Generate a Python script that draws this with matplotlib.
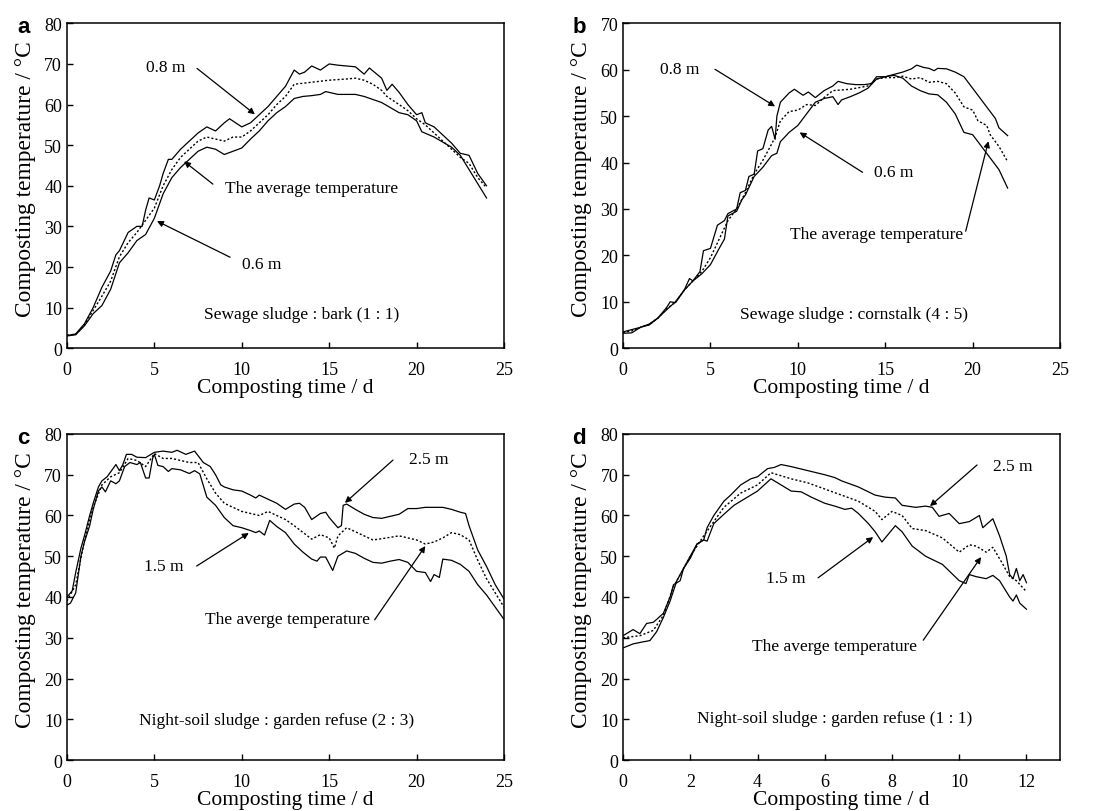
import numpy as np
import matplotlib.pyplot as plt

plt.rcParams['font.family'] = ['Liberation Serif', 'DejaVu Serif']

# ---- panel a: sewage sludge : bark (1 : 1) ----
a_t_hi = [0, 0.5, 1, 1.5, 2, 2.5, 2.8, 3, 3.5, 4, 4.3, 4.5, 4.7, 5, 5.3, 5.5, 5.8, 6, 6.5, 7,
          7.5, 8, 8.5, 9, 9.3, 10, 10.5, 11, 11.5, 12, 12.5, 13, 13.3, 13.6, 14, 14.5, 15, 15.5,
          16, 16.5, 17, 17.3, 18, 18.3, 18.6, 19, 19.5, 20, 20.3, 20.5, 21, 21.5, 22, 22.5, 23,
          23.5, 24]
a_hi = [3.1, 3.5, 6, 10, 15, 19, 23, 24, 28.5, 30, 30, 34, 37, 36.5, 40, 43, 46.5, 46.5, 49, 51,
        53, 54.5, 53.5, 55.5, 56.5, 54.5, 55.5, 57.5, 59.5, 62, 64.5, 68.5, 67.5, 68, 69.5, 68.5,
        70, 69.7, 69.5, 69.3, 67.5, 69, 66.5, 63.5, 65, 63, 60, 57.5, 58, 55.5, 54.5, 52.5, 50.5,
        48, 47.5, 43, 40]
a_t_lo = [0, 0.5, 1, 1.5, 2, 2.5, 3, 3.5, 4, 4.5, 5, 5.5, 6, 6.5, 7, 7.5, 8, 8.5, 9, 9.5, 10,
          10.5, 11, 11.5, 12, 12.5, 13, 13.5, 14, 14.5, 14.8, 15.5, 16.5, 17, 18, 19, 19.5, 20,
          20.3, 21, 22, 22.5, 23, 23.5, 24]
a_lo = [3, 3.3, 5.5, 8.5, 10.5, 14.5, 21, 23.5, 26.5, 28, 32, 38, 42, 44.5, 46.5, 48.5, 49.5, 49,
        47.7, 48.5, 49.3, 51.5, 53.5, 56, 58, 59.5, 61.5, 62, 62.2, 62.5, 63.2, 62.5, 62.5, 62,
        60.5, 58, 57.5, 56, 53.3, 52, 49.5, 47.5, 44, 40.5, 37]
a_t_avg = [0, 0.5, 1, 1.5, 2, 2.5, 3, 3.5, 4, 4.5, 5, 5.5, 6, 6.5, 7, 7.5, 8, 8.5, 9, 9.5, 10,
           10.5, 11, 11.5, 12, 12.5, 13, 14, 15, 16, 16.5, 17, 17.5, 18, 18.3, 19, 19.5, 20, 20.5,
           21, 21.5, 22, 22.5, 23, 23.5, 24]
a_avg = [3.2, 3.4, 5.8, 9.3, 12.8, 16.5, 22.5, 26, 28.5, 31.5, 34.5, 40, 44, 47, 49, 51, 52, 51.5,
         51, 52, 52, 53.5, 55.5, 57.5, 60, 62, 65, 65.5, 66, 66.3, 66.5, 66, 65, 63.5, 62, 60,
         58.5, 56.5, 55, 53, 51, 49, 47, 45.5, 42, 39.5]

# ---- panel b: sewage sludge : cornstalk (4 : 5) ----
b_t_hi = [0, 0.5, 1, 1.5, 2, 2.5, 2.7, 3, 3.5, 3.8, 4, 4.4, 4.6, 5, 5.4, 5.8, 6, 6.5, 6.7, 7,
          7.2, 7.5, 7.7, 8, 8.3, 8.5, 8.7, 8.8, 9, 9.5, 9.8, 10.3, 10.6, 11, 11.5, 12, 12.3,
          12.8, 13.3, 13.8, 14.2, 14.5, 15, 15.5, 16, 16.5, 16.8, 17.2, 17.5, 17.8, 18, 18.5,
          19, 19.5, 20, 20.5, 21, 21.3, 21.5, 22]
b_hi = [3.5, 4, 4.5, 5.2, 6.5, 8.8, 10, 9.8, 12.5, 15, 14.5, 16.5, 21, 21.5, 26.5, 27.5, 29, 30,
        33.5, 34, 37, 37.5, 42.5, 43, 47, 47.8, 45, 50, 53, 55, 55.8, 54.5, 55.2, 54, 55.5, 56.5,
        57.5, 57, 56.8, 56.8, 57, 58.5, 58.5, 59, 59.5, 60.2, 61, 60.5, 60.3, 59.8, 60.3, 60.2,
        59.5, 58.5, 56, 53.5, 51, 49.5, 47.5, 45.8]
b_t_lo = [0, 0.5, 1, 1.5, 2, 2.5, 3, 3.5, 4, 4.5, 5, 5.5, 5.8, 6, 6.5, 6.8, 7, 7.5, 8, 8.5, 8.8,
          9, 9.5, 10, 10.5, 11, 11.5, 12, 12.3, 12.5, 13, 13.5, 14, 14.5, 15, 15.5, 16, 16.5,
          17, 17.5, 18, 18.5, 19, 19.5, 20, 20.5, 21, 21.5, 22]
b_lo = [3.2, 3.3, 4.5, 5, 6.5, 8.3, 10, 12.5, 14.5, 16, 18, 21.5, 23.5, 28.5, 29.5, 32, 33, 37,
        39, 41.5, 42, 44.5, 46.5, 48, 50.5, 53, 53.8, 54.2, 52.5, 53.5, 54.2, 55, 56, 58, 58.5,
        58.8, 58.2, 56.5, 55.5, 54.8, 54.6, 53, 50.5, 46.5, 46, 43.5, 41, 38.5, 34.5]
b_t_avg = [0, 0.5, 1, 1.5, 2, 2.5, 3, 3.5, 4, 4.5, 5, 5.5, 6, 6.5, 7, 7.5, 8, 8.5, 8.7, 9, 9.5,
           10, 10.5, 11, 11.5, 12, 13, 14, 14.5, 15, 15.5, 16, 16.5, 17, 17.5, 18, 18.5, 19,
           19.5, 20, 20.3, 20.8, 21, 21.5, 22]
b_avg = [3.4, 3.7, 4.5, 5.1, 6.5, 8.5, 9.9, 12.5, 14.5, 16.5, 19.5, 23.5, 27.5, 30, 33.5, 37.5,
         40.5, 44, 45.5, 49, 51, 51.3, 52.5, 52.3, 54, 55.5, 55.8, 56.5, 58, 58.3, 58.3, 58.6, 58,
         58.3, 57.3, 57.5, 57, 55, 52, 51.3, 49, 48, 46, 43.5, 40.2]

# ---- panel c: night-soil sludge : garden refuse (2 : 3) ----
c_t_hi = [0, 0.3, 0.5, 0.8, 1, 1.3, 1.5, 1.8, 2, 2.3, 2.8, 3, 3.2, 3.4, 3.7, 4, 4.5, 5, 5.5, 6,
          6.3, 6.8, 7.3, 7.8, 8.2, 8.5, 8.8, 9, 9.5, 10, 10.5, 10.8, 11, 11.5, 12, 12.5, 13,
          13.3, 13.6, 14, 14.5, 14.8, 15, 15.5, 15.7, 15.8, 16, 16.5, 17, 17.5, 18, 18.5, 19,
          19.5, 20, 20.5, 21, 21.5, 22, 22.5, 22.8, 23, 23.5, 24, 24.5, 25]
c_hi = [40, 41.5, 46, 52, 55, 60, 63, 67, 68.5, 69.5, 72.5, 71, 72.5, 75, 75, 74.3, 74.2, 75.5,
        75.8, 75.5, 76, 75, 75.8, 73, 72, 70, 67.5, 67, 66.3, 66, 65, 64.3, 65, 64, 63, 61.5,
        62.8, 63, 62, 59, 60.5, 60.8, 59.5, 57, 57.5, 62.5, 62.8, 61.5, 60.3, 59.5, 59.3, 59.8,
        60.3, 61.7, 61.7, 62, 62, 62, 61.5, 60.8, 60.5, 57.5, 51.5, 47.5, 43, 39.5]
c_t_lo = [0, 0.2, 0.5, 0.8, 1, 1.3, 1.5, 1.8, 2, 2.2, 2.5, 2.8, 3, 3.3, 3.6, 4, 4.2, 4.5, 4.7,
          4.9, 5, 5.2, 5.5, 5.8, 6, 6.5, 7, 7.3, 7.6, 8, 8.5, 9, 9.5, 10, 10.5, 10.8, 11, 11.3,
          11.6, 12, 12.5, 13, 13.5, 14, 14.3, 14.5, 14.8, 15.2, 15.5, 16, 16.5, 17, 17.5, 18,
          18.5, 19, 19.5, 20, 20.5, 20.8, 21, 21.3, 21.5, 22, 22.5, 23, 23.5, 24, 24.5, 25]
c_lo = [38, 38.5, 41, 50, 53.5, 57.5, 61.5, 66, 67, 65.8, 68.5, 67.8, 68.5, 72, 73, 72.5, 73,
        69.2, 69.2, 74, 75, 72.3, 72, 70.8, 71.5, 71.2, 70.3, 71, 70.2, 64.5, 62.5, 59.5, 57.5,
        57, 56.3, 55.8, 56.2, 55.2, 58.8, 57.3, 55.8, 53, 51, 49.3, 48.8, 49.8, 49.8, 46.5, 50,
        51.3, 50.7, 49.5, 48.5, 48.3, 48.8, 49.2, 48.5, 46.3, 46, 43.8, 45.5, 44.8, 49.3, 49, 48,
        46.3, 43, 40.5, 37.5, 34.5]
c_t_avg = [0, 0.5, 1, 1.5, 2, 2.5, 3, 3.5, 4, 4.5, 5, 5.5, 6, 6.5, 7, 7.5, 8, 8.5, 9, 9.5, 10,
           10.5, 11, 11.5, 12, 12.5, 13, 14, 14.5, 15, 15.3, 15.5, 16, 16.5, 17, 17.5, 18, 19,
           20, 20.5, 21, 21.5, 22, 22.5, 23, 23.5, 24, 24.5, 25]
c_avg = [39, 43, 54, 62, 67.5, 69.5, 70.5, 74, 73.5, 72, 75.2, 74, 74, 73.5, 73, 73, 69, 65.5,
         63, 62, 61, 60.5, 60, 61, 60, 59, 57.5, 54.2, 55.3, 54.5, 52, 55, 57, 56, 55, 54, 54.3,
         55, 54, 53, 53.5, 54.5, 55.8, 55.3, 54, 49, 44.5, 41, 37.5]

# ---- panel d: night-soil sludge : garden refuse (1 : 1) ----
d_t_hi = [0, 0.2, 0.3, 0.5, 0.7, 0.9, 1, 1.2, 1.4, 1.5, 1.7, 1.8, 2, 2.2, 2.4, 2.5, 2.7, 3, 3.2,
          3.5, 3.8, 4, 4.3, 4.5, 4.7, 5, 5.5, 6, 6.3, 6.5, 7, 7.5, 7.8, 8.1, 8.3, 8.7, 9, 9.2,
          9.4, 9.7, 10, 10.3, 10.6, 10.7, 11, 11.2, 11.4, 11.5, 11.6, 11.7, 11.8, 11.9, 12]
d_hi = [30.5, 31.5, 32, 31, 33.5, 33.8, 34.5, 36, 40, 43, 44, 47, 49.5, 53, 54, 57, 60, 63.5, 65,
        67.5, 69, 69.5, 71.5, 71.8, 72.5, 72, 71, 70, 69.3, 68.5, 67, 65, 64.5, 64.3, 62.5, 62,
        62.3, 62, 59.8, 60.5, 58, 58.5, 60, 57, 59.2, 55, 50, 45.5, 44.5, 47, 44, 45.5, 43.5]
d_t_lo = [0, 0.3, 0.6, 0.8, 1, 1.2, 1.4, 1.6, 1.8, 2, 2.2, 2.4, 2.5, 2.7, 3, 3.3, 3.6, 4, 4.2,
          4.4, 4.7, 5, 5.3, 5.6, 6, 6.3, 6.6, 6.8, 7, 7.3, 7.5, 7.7, 7.9, 8.1, 8.3, 8.6, 9, 9.5,
          10, 10.2, 10.3, 10.5, 10.8, 11, 11.2, 11.5, 11.6, 11.7, 11.8, 12]
d_lo = [27.5, 28.5, 29, 29.3, 31.5, 35, 39, 44, 47, 50, 53, 54, 53.7, 58, 60.3, 62.5, 64, 66,
        67.5, 69, 67.5, 66, 65.8, 64.5, 63, 62.3, 61.5, 61.8, 60.5, 58, 56, 53.5, 55.5, 57.5, 56,
        52.5, 50, 48, 44, 43.3, 45.5, 45, 44.5, 45.3, 44, 40, 39, 40.5, 38.5, 37]
d_t_avg = [0, 0.5, 0.9, 1.2, 1.5, 2, 2.4, 3, 3.5, 4, 4.4, 5, 5.5, 6, 6.5, 7, 7.5, 7.7, 8, 8.3,
           8.6, 9, 9.5, 10, 10.3, 10.5, 10.8, 11, 11.3, 11.5, 11.7, 12]
d_avg = [30, 30.5, 31.8, 35.5, 42.5, 50, 55, 62, 65.5, 67.5, 70.5, 69, 68, 66.5, 65, 63.5, 61,
         59, 61, 60, 56.8, 56.3, 54.5, 51, 52.8, 52.5, 51, 52.2, 48, 45, 44, 41.3]

panels = [
    dict(label="a", pos=[0.0612, 0.570, 0.3995, 0.400], xmax=25, xstep=5, ymax=80,
         hi=(a_t_hi, a_hi), lo=(a_t_lo, a_lo), avg=(a_t_avg, a_avg),
         note=("Sewage sludge : bark (1 : 1)", 13.4, 8.4),
         texts=[("0.8 m", 5.66, 69.2, (7.44, 68.9), (10.75, 57.6)),
                ("The average temperature", 14.0, 39.4, (8.35, 40.4), (6.7, 46.0)),
                ("0.6 m", 11.15, 20.7, (9.33, 22.4), (5.15, 31.3))]),
    dict(label="b", pos=[0.5695, 0.570, 0.3995, 0.400], xmax=25, xstep=5, ymax=70,
         hi=(b_t_hi, b_hi), lo=(b_t_lo, b_lo), avg=(b_t_avg, b_avg),
         note=("Sewage sludge : cornstalk (4 : 5)", 13.2, 7.3),
         texts=[("0.8 m", 3.26, 60.1, (5.26, 60.1), (8.7, 52.1)),
                ("0.6 m", 15.5, 37.9, (13.7, 37.9), (10.1, 46.5)),
                ("The average temperature", 14.5, 24.6, (19.6, 25.2), (20.9, 44.6))]),
    dict(label="c", pos=[0.0612, 0.0628, 0.3995, 0.4015], xmax=25, xstep=5, ymax=80,
         hi=(c_t_hi, c_hi), lo=(c_t_lo, c_lo), avg=(c_t_avg, c_avg),
         note=("Night-soil sludge : garden refuse (2 : 3)", 12.0, 9.8),
         texts=[("2.5 m", 20.7, 73.9, (18.65, 73.6), (15.9, 63.1)),
                ("1.5 m", 5.55, 47.6, (7.42, 47.6), (10.4, 55.7)),
                ("The averge temperature", 12.6, 34.6, (17.6, 34.4), (20.5, 52.5))]),
    dict(label="d", pos=[0.5695, 0.0628, 0.3995, 0.4015], xmax=13, xstep=2, ymax=80,
         hi=(d_t_hi, d_hi), lo=(d_t_lo, d_lo), avg=(d_t_avg, d_avg),
         note=("Night-soil sludge : garden refuse (1 : 1)", 6.28, 10.3),
         texts=[("2.5 m", 11.6, 72.2, (10.53, 72.4), (9.13, 62.3)),
                ("1.5 m", 4.85, 44.7, (5.8, 44.7), (7.44, 54.7)),
                ("The averge temperature", 6.3, 28.0, (8.93, 29.4), (10.65, 49.8))]),
]

fig = plt.figure(figsize=(10.94, 8.12), dpi=100)

for p in panels:
    ax = fig.add_axes(p["pos"])
    ax.plot(*p["hi"], color="black", lw=0.9)
    ax.plot(*p["lo"], color="black", lw=0.9)
    ax.plot(*p["avg"], color="black", lw=1.0, ls=(0, (1.5, 1.5)))

    ax.set_xlim(0, p["xmax"])
    ax.set_ylim(0, p["ymax"])
    ax.set_xticks(np.arange(0, p["xmax"] + 0.1, p["xstep"]))
    ax.set_yticks(np.arange(0, p["ymax"] + 1, 10))
    ax.tick_params(direction="in", length=4, width=1, labelsize=13)
    ax.tick_params(axis="x", pad=9)
    ax.tick_params(axis="y", pad=3.5)
    for s in ax.spines.values():
        s.set_linewidth(1.1)

    ax.set_xlabel("Composting time / d", fontsize=15.5, labelpad=0)
    ax.set_ylabel("Composting temperature / °C", fontsize=16.8)
    ax.yaxis.set_label_coords(-0.071, 0.523)

    txt, nx, ny = p["note"]
    ax.text(nx, ny, txt, fontsize=12.5, ha="center", va="center")

    for t, tx, ty, tail, head in p["texts"]:
        ax.text(tx, ty, t, fontsize=12.5, ha="center", va="center")
        ax.annotate("", xy=head, xytext=tail,
                    arrowprops=dict(arrowstyle="-|>", color="black", lw=0.9,
                                    mutation_scale=9, shrinkA=0, shrinkB=0))

    ax.text(-0.1, 0.99, p["label"], transform=ax.transAxes, fontsize=16,
            fontweight="bold", family=["Liberation Sans", "DejaVu Sans"],
            ha="center", va="center")

fig.savefig("out.png", dpi=100)
